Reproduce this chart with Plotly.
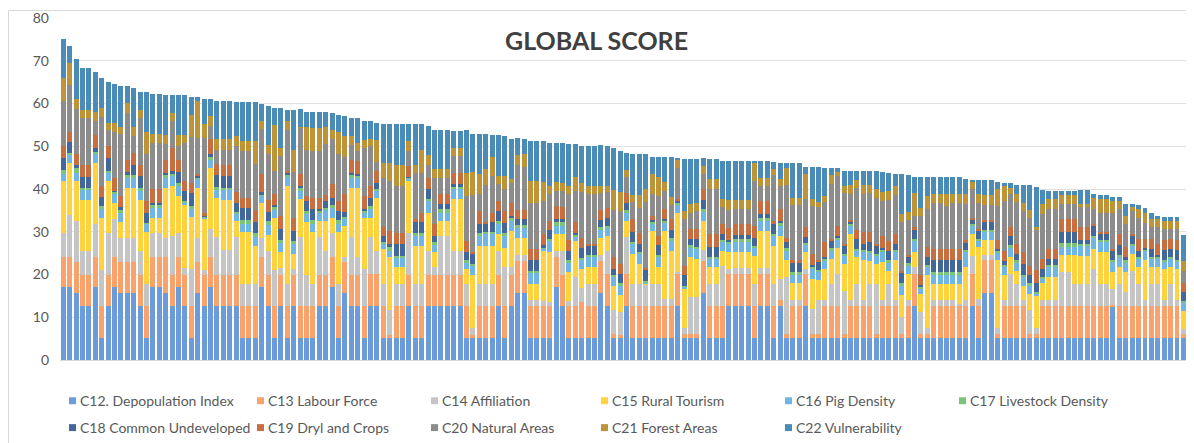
import plotly.graph_objects as go

# ---------------- data ----------------
units = [str(i) for i in range(1, 178)]

c12 = [17, 17, 15.7, 12.6, 12.6, 17, 5.2, 12.6, 17, 15.7,
       15.7, 15.7, 12.6, 5.2, 17, 17, 15.7, 12.6, 17, 12.6,
       5.2, 15.7, 12.6, 17, 12.6, 12.6, 12.6, 12.6, 5.2, 5.2,
       5.2, 17, 12.6, 5.2, 12.6, 5.2, 12.6, 5.2, 5.2, 5.2,
       12.6, 12.6, 17, 5.2, 15.7, 12.6, 12.6, 5.2, 12.6, 12.6,
       5.2, 5.2, 5.2, 5.2, 12.6, 5.2, 5.2, 12.6, 12.6, 12.6,
       12.6, 12.6, 12.6, 5.2, 5.2, 5.2, 5.2, 5.2, 12.6, 5.2,
       12.6, 15.7, 15.7, 5.2, 5.2, 5.2, 5.2, 17, 12.6, 5.2,
       5.2, 5.2, 5.2, 5.2, 15.7, 12.6, 5.2, 5.2, 12.6, 5.2,
       5.2, 5.2, 5.2, 5.2, 5.2, 5.2, 12.6, 5.2, 5.2, 5.2,
       15.7, 5.2, 5.2, 5.2, 12.6, 12.6, 12.6, 12.6, 5.2, 12.6,
       12.6, 5.2, 12.6, 5.2, 5.2, 5.2, 12.6, 5.2, 5.2, 5.2,
       5.2, 5.2, 5.2, 5.2, 5.2, 5.2, 5.2, 5.2, 5.2, 5.2,
       5.2, 5.2, 5.2, 12.6, 5.2, 5.2, 5.2, 5.2, 5.2, 5.2,
       5.2, 5.2, 12.6, 5.2, 15.7, 15.7, 5.2, 5.2, 5.2, 5.2,
       5.2, 5.2, 5.2, 5.2, 5.2, 5.2, 5.2, 5.2, 5.2, 5.2,
       5.2, 5.2, 5.2, 5.2, 12.6, 5.2, 5.2, 5.2, 5.2, 5.2,
       5.2, 5.2, 5.2, 5.2, 5.2, 5.2, 5.2]

c13 = [7, 7, 7.2, 7.4, 7.4, 7, 7.4, 7.4, 7, 7.2,
       7.2, 7.2, 7.4, 7.4, 7, 7, 8.3, 7.4, 7, 7.4,
       7.4, 7.2, 7.4, 7, 7.4, 7.4, 7.4, 7.4, 7.4, 7.4,
       7.4, 7, 7.4, 7.4, 7.4, 7.4, 7.4, 7.4, 7.4, 7.4,
       7.4, 7.4, 7, 7.4, 7.2, 7.4, 7.4, 7.4, 7.6, 7.6,
       7.4, 0.6, 7.4, 7.4, 7.4, 7.4, 7.4, 7.4, 7.4, 7.4,
       7.4, 7.4, 7.4, 7.4, 0.6, 7.4, 7.4, 7.4, 7.4, 7.4,
       7.4, 7.4, 7.4, 7.4, 7.4, 7.4, 7.4, 7, 7.4, 7.4,
       7.4, 8.4, 7.4, 7.4, 7.4, 7.6, 1.0, 0.6, 7.6, 7.4,
       7.4, 7.4, 7.4, 7.4, 7.4, 7.4, 7.6, 1.0, 1.0, 1.0,
       7.4, 7.4, 7.4, 7.4, 7.6, 7.6, 7.6, 7.6, 7.4, 7.6,
       7.6, 7.4, 1.4, 1.0, 7.4, 7.4, 7.6, 1.0, 1.0, 7.4,
       7.4, 7.4, 1.0, 7.4, 7.4, 7.4, 7.4, 1.0, 7.4, 7.4,
       7.4, 1.0, 7.4, 7.6, 1.0, 1.0, 7.4, 7.4, 7.4, 7.4,
       7.4, 7.4, 7.6, 7.4, 7.8, 7.8, 1.0, 7.4, 7.4, 7.4,
       7.4, 1.0, 1.0, 7.4, 7.4, 7.4, 7.4, 7.4, 7.4, 7.4,
       7.4, 7.4, 7.4, 7.4, 0.3, 7.4, 7.4, 7.4, 7.4, 7.4,
       7.4, 7.4, 7.4, 7.4, 7.4, 0.8, 7.4]

c14 = [5.7, 10, 9.7, 5.6, 5.6, 7.9, 8.5, 9.7, 9, 5.6,
       5.6, 5.6, 5.6, 5.2, 5.7, 5.7, 4.5, 9.1, 5.7, 1.6,
       8.7, 5.6, 1.1, 6.6, 8.8, 5.7, 5.7, 8.8, 5.2, 5.2,
       5.2, 4.5, 5.6, 8.5, 1.6, 5.2, 1.3, 16.2, 7.4, 5.2,
       8.8, 5.6, 5.7, 5.2, 1.1, 8.8, 4.0, 8.7, 8.5, 5.4,
       5.1, 5.8, 5.2, 5.2, 9.8, 5.2, 5.2, 5.6, 1.7, 9.1,
       9.1, 5.6, 5.6, 5.2, 1.6, 5.2, 5.2, 5.2, 5.6, 9.1,
       1.7, 1.5, 1.5, 1.5, 1.5, 1.2, 1.0, 1.6, 5.6, 1.3,
       6.8, 3.3, 5.2, 5.2, 1.5, 5.4, 5.4, 5.4, 8.5, 5.2,
       5.2, 5.0, 5.2, 5.2, 1.7, 1.7, 0.5, 1.2, 8.5, 8.5,
       2.7, 5.2, 5.2, 9.5, 1.1, 1.4, 1.4, 1.4, 5.2, 1.4,
       1.4, 5.2, 5.0, 13.2, 1.4, 1.4, 1.2, 5.8, 7.8, 1.4,
       5.2, 7.6, 10.0, 1.4, 5.2, 1.4, 5.2, 11.6, 1.4, 5.2,
       1.4, 3.9, 1.4, 1.5, 5.0, 1.2, 1.4, 1.4, 1.4, 1.4,
       0.6, 1.4, 4.2, 1.7, 1.1, 1.1, 1.2, 1.4, 7.6, 5.2,
       1.4, 5.4, 1.2, 1.4, 1.4, 1.4, 8.1, 8.1, 5.2, 5.2,
       5.2, 8.6, 5.2, 5.2, 3.8, 5.2, 3.2, 8.3, 5.2, 1.4,
       5.2, 5.2, 1.4, 5.2, 1.4, 1.2, 1.4]

c15 = [12.2, 12, 9.3, 11.8, 11.8, 14.1, 12.2, 12.2, 3.8, 3.7,
       11.8, 11.8, 11.8, 12.2, 3.6, 3.6, 11.8, 11.6, 8.7, 14.8,
       12.2, 11.8, 12, 14.4, 9, 11.7, 11.7, 3.8, 12.2, 12.2,
       8.9, 8.3, 3.7, 12.2, 3.6, 22.9, 3.5, 8.8, 12.2, 12.2,
       3.8, 7, 3.6, 12.2, 7.4, 11.5, 16.3, 12.0, 4.6, 12.4,
       8.3, 12.4, 3.9, 3.9, 12.1, 8.9, 8.9, 8.9, 3.5, 3.5,
       3.5, 12.0, 12.0, 3.5, 12.4, 8.9, 8.9, 8.9, 3.9, 4.6,
       8.5, 3.9, 3.9, 3.7, 3.7, 11.7, 11.6, 3.9, 3.9, 6.6,
       8.5, 4.3, 3.9, 3.9, 3.9, 3.3, 5.8, 3.9, 3.9, 7.0,
       4.6, 0.3, 12.4, 3.9, 15.9, 11.2, 13.8, 9.3, 9.3, 8.9,
       6.6, 3.9, 3.9, 3.5, 3.9, 3.6, 3.6, 3.6, 6.5, 8.6,
       8.6, 8.9, 10.0, 3.9, 3.9, 3.9, 3.9, 6.9, 4.6, 7.3,
       5.9, 5.9, 6.2, 15.5, 6.2, 9.3, 5.4, 4.6, 8.9, 3.1,
       9.3, 5.0, 6.2, 3.5, 4.3, 12.4, 3.8, 3.8, 3.8, 3.8,
       4.6, 7.7, 5.1, 12.1, 3.5, 3.5, 15.9, 5.8, 3.8, 3.1,
       3.4, 3.9, 7.7, 3.9, 5.4, 5.4, 3.9, 3.9, 6.8, 6.6,
       6.6, 4.7, 7.4, 7.4, 4.0, 3.9, 4.7, 3.9, 3.9, 9.5,
       3.9, 3.9, 7.4, 3.9, 7.4, 4.3, 3.5]

c16 = [1.7, 2.1, 1.8, 2.3, 2.3, 2.2, 2, 1.9, 2, 2.3,
       2.3, 2.3, 2.1, 1.9, 2.2, 2.2, 2.3, 2.3, 2.3, 0.4,
       1.8, 2.0, 0.3, 1.9, 1.9, 2.3, 2.3, 1.5, 1.9, 1.9,
       2.1, 1.5, 2.3, 1.8, 2.1, 2.1, 2.3, 1.9, 1.9, 1.9,
       1.7, 2.4, 2.2, 1.9, 1.5, 2.3, 2.3, 1.2, 2.0, 1.6,
       1.2, 1.6, 2.2, 2.2, 0.5, 2.4, 2.4, 2.7, 1.9, 1.9,
       1.9, 2.3, 2.3, 1.5, 2.3, 2.4, 2.7, 2.7, 2.3, 2.7,
       2.3, 2.3, 2.3, 2.7, 2.7, 0.5, 2.7, 1.9, 1.9, 2.3,
       1.0, 2.1, 2.3, 2.3, 1.9, 1.9, 1.9, 2.3, 1.9, 2.3,
       2.3, 0.3, 1.6, 2.3, 1.9, 2.3, 1.9, 0.4, 2.3, 2.3,
       2.3, 1.9, 1.9, 1.9, 1.9, 2.4, 2.4, 2.4, 1.9, 2.3,
       2.3, 2.3, 2.3, 2.3, 1.9, 1.9, 1.5, 2.3, 1.9, 1.9,
       1.9, 1.9, 1.9, 1.9, 1.5, 1.9, 1.9, 1.9, 2.3, 1.9,
       1.9, 2.3, 1.9, 2.7, 1.2, 1.9, 2.0, 2.0, 2.0, 2.0,
       2.0, 3.5, 1.9, 1.5, 1.9, 1.9, 1.9, 1.9, 2.4, 2.0,
       1.9, 1.9, 0.4, 1.2, 2.3, 2.3, 1.9, 1.9, 1.9, 2.3,
       2.3, 2.7, 2.3, 2.3, 2.3, 2.3, 2.3, 1.9, 1.9, 1.9,
       1.9, 1.9, 1.5, 1.9, 1.5, 1.9, 1.2]

c17 = [0.8, 0.3, 1.3, 0.6, 0.6, 0.4, 0.7, 0.5, 0.5, 0.8,
       0.7, 0.7, 0.8, 0.2, 0.8, 0.8, 0.6, 0.5, 0.8, 0.3,
       0.8, 0.5, 0.2, 0.7, 0.8, 0.6, 0.6, 0.5, 0.8, 0.8,
       0.8, 0.5, 0.8, 0.8, 0.8, 0.6, 0.8, 0.8, 0.8, 0.8,
       0.5, 0.5, 0.8, 0.8, 0.5, 0.7, 0.6, 0.4, 0.7, 0.5,
       0.4, 0.8, 0.5, 0.5, 0.2, 0.7, 0.7, 0.4, 0.4, 0.8,
       0.8, 0.8, 0.8, 0.5, 0.4, 0.7, 0.5, 0.5, 0.8, 0.8,
       0.8, 0.8, 0.8, 0.4, 0.4, 0.3, 0.5, 0.8, 0.8, 0.7,
       0.4, 0.6, 0.5, 0.5, 0.6, 0.5, 0.5, 0.5, 0.5, 0.6,
       0.5, 0.3, 0.5, 0.5, 0.5, 0.7, 0.4, 0.3, 0.5, 0.5,
       0.7, 0.5, 0.5, 0.5, 0.5, 0.8, 0.8, 0.8, 0.5, 0.8,
       0.8, 0.5, 0.8, 0.6, 0.8, 0.8, 0.5, 0.5, 0.5, 0.5,
       0.5, 0.5, 0.5, 0.5, 0.5, 0.5, 0.5, 0.5, 0.5, 0.5,
       0.5, 0.5, 0.5, 0.4, 0.4, 0.5, 0.7, 0.7, 0.7, 0.7,
       0.7, 0.5, 0.4, 0.4, 0.4, 0.4, 0.4, 0.5, 0.4, 0.4,
       0.5, 0.5, 0.4, 0.4, 0.5, 0.5, 0.8, 0.8, 0.8, 0.5,
       0.5, 0.5, 0.5, 0.5, 0.5, 0.5, 0.5, 0.5, 0.5, 0.5,
       0.5, 0.5, 0.5, 0.5, 0.5, 0.5, 0.4]

c18 = [2.9, 2.5, 0.7, 2.5, 2.5, 1.0, 2.1, 3.0, 0.2, 0.4,
       0.7, 2.4, 2.7, 2.4, 0.5, 0.5, 0.6, 0.7, 2.5, 2.4,
       2.9, 0.4, 0.2, 0.5, 2.7, 2.7, 2.7, 2.2, 2.8, 2.8,
       2.6, 0.4, 2.3, 0.4, 2.5, 0.4, 2.3, 0.4, 2.3, 2.6,
       0.5, 1.8, 1.7, 2.2, 1.3, 0.5, 0.4, 0.4, 2.0, 1.2,
       1.5, 0.8, 2.7, 2.7, 0.2, 2.4, 2.4, 2.3, 1.6, 1.1,
       1.1, 0.4, 0.4, 1.9, 2.3, 2.0, 1.8, 2.3, 2.3, 2.3,
       0.4, 1.5, 1.5, 2.4, 2.4, 0.5, 1.9, 0.8, 0.8, 2.0,
       0.4, 2.2, 2.3, 2.3, 1.8, 1.9, 1.5, 2.3, 1.8, 2.3,
       2.0, 2.7, 0.5, 2.3, 0.4, 2.0, 0.4, 2.4, 1.5, 1.9,
       2.0, 2.3, 2.3, 1.5, 0.5, 0.8, 0.8, 0.8, 1.9, 0.8,
       0.8, 2.4, 0.5, 1.5, 2.2, 2.2, 1.5, 0.5, 1.9, 0.5,
       1.9, 0.5, 1.9, 0.4, 2.2, 1.5, 1.9, 1.9, 0.5, 2.3,
       1.5, 2.6, 1.6, 2.3, 0.4, 1.9, 2.8, 2.8, 2.8, 2.8,
       2.8, 1.9, 1.0, 1.9, 2.0, 2.0, 0.4, 1.0, 2.3, 1.6,
       2.7, 1.9, 2.0, 1.9, 1.5, 1.5, 2.7, 2.7, 2.7, 0.8,
       0.8, 2.3, 1.5, 1.5, 2.0, 2.3, 0.8, 1.9, 1.5, 0.4,
       1.9, 0.4, 2.3, 1.9, 2.3, 1.9, 0.4]

c19 = [2.7, 2.5, 2.4, 2.8, 2.8, 3.1, 2.6, 2.7, 3.1, 2.7,
       2.9, 2.7, 2.7, 2.7, 3.1, 3.1, 3.1, 5.4, 2.9, 2.4,
       2.5, 0.3, 0.5, 3.5, 2.7, 2.7, 2.7, 2.5, 2.5, 2.5,
       2.8, 4.2, 2.7, 2.5, 3.1, 0.4, 3.1, 2.9, 1.2, 2.7,
       2.7, 1.2, 3.1, 2.3, 4.1, 2.9, 2.9, 3.0, 2.7, 2.8,
       2.0, 2.9, 2.7, 2.7, 2.5, 0.7, 2.3, 2.7, 2.7, 2.4,
       2.4, 2.7, 2.7, 2.7, 0.5, 3.1, 0.5, 2.3, 2.3, 2.7,
       3.1, 2.0, 2.0, 2.7, 2.7, 2.7, 2.3, 3.1, 2.7, 2.5,
       2.5, 2.4, 0.4, 0.4, 2.3, 2.4, 2.7, 2.3, 2.2, 3.1,
       2.5, 0.4, 0.8, 2.3, 2.4, 2.4, 0.4, 2.3, 2.3, 2.3,
       2.7, 3.1, 3.1, 2.3, 2.8, 2.7, 2.7, 2.7, 2.7, 3.1,
       3.1, 0.5, 2.7, 0.8, 0.5, 0.5, 2.3, 2.7, 0.5, 3.3,
       0.4, 2.4, 0.4, 0.4, 2.3, 2.7, 2.4, 0.4, 2.7, 2.3,
       2.3, 0.4, 0.4, 0.4, 2.3, 2.3, 2.7, 2.7, 2.7, 2.7,
       2.7, 0.4, 0.4, 0.4, 0.4, 0.4, 2.0, 2.3, 1.9, 2.3,
       2.7, 2.3, 3.1, 2.3, 2.3, 2.3, 3.1, 3.1, 3.1, 3.1,
       3.1, 0.4, 0.4, 0.4, 0.4, 2.7, 2.3, 0.4, 2.7, 1.9,
       2.3, 2.7, 2.3, 2.3, 2.3, 2.3, 2.3]

c20 = [10.6, 11, 10.7, 11.1, 11.1, 3.3, 16.1, 3.7, 10.7, 14.5,
       10.9, 3.9, 10.9, 10.9, 10.9, 10.9, 3.6, 6.2, 3.1, 8.9,
       10.6, 8.4, 17.6, 3.1, 3.3, 3.5, 3.5, 10.8, 10.8, 10.8,
       10.9, 10.7, 10.8, 5.5, 14, 9.5, 10.7, 10.8, 10.8, 10.8,
       10.8, 12, 10.7, 10.9, 8.6, 3.7, 2.4, 11.2, 9.3, 2.3,
       11.5, 11.7, 10.9, 10.9, 3.5, 10.9, 9.3, 3.0, 10.8, 3.8,
       3.8, 3.9, 3.9, 10.5, 13.2, 3.9, 8.8, 8.5, 3.9, 5.3,
       4.7, 10.4, 10.0, 10.8, 10.8, 7.7, 6.2, 3.5, 3.9, 10.8,
       7.3, 10.8, 11.6, 11.6, 3.9, 3.8, 11.2, 12.4, 3.8, 3.9,
       5.8, 15.3, 5.3, 9.2, 4.2, 3.4, 7.4, 10.8, 3.9, 4.2,
       3.4, 10.5, 10.5, 3.9, 4.2, 3.5, 3.5, 3.5, 10.5, 3.5,
       3.5, 10.8, 5.4, 12.5, 13.0, 13.0, 6.6, 11.2, 12.4, 9.4,
       12.8, 11.7, 12.0, 6.2, 9.7, 9.0, 9.2, 10.8, 8.4, 9.6,
       9.2, 11.3, 8.2, 2.7, 13.9, 8.9, 10.8, 10.8, 10.0, 10.8,
       10.8, 8.6, 6.9, 6.2, 3.4, 3.4, 8.0, 11.6, 7.8, 9.7,
       9.7, 11.2, 9.3, 10.5, 9.3, 9.3, 3.5, 3.5, 3.5, 4.6,
       4.6, 3.5, 4.6, 4.6, 8.6, 5.8, 5.3, 5.3, 5.0, 3.9,
       2.7, 3.9, 2.7, 2.3, 2.7, 2.7, 2.7]

c21 = [5.3, 5.1, 2.3, 1.8, 1.8, 2.1, 2.1, 1.7, 2.1, 1.5,
       2.3, 2.2, 1.9, 5.2, 2.1, 2.1, 2.2, 2.0, 2.7, 1.9,
       5.3, 8.6, 3.3, 2.3, 2.4, 2.4, 2.4, 2.4, 2.4, 2.4,
       5.3, 1.7, 2.2, 10.6, 1.9, 2.2, 5.2, 0.2, 5.2, 5.5,
       5.5, 4, 2.1, 5.2, 4.9, 1.9, 1.9, 2.0, 1.6, 5.0,
       3.5, 4.4, 5.0, 5.0, 2.4, 1.9, 5.4, 2.4, 2.0, 2.0,
       2.0, 1.9, 1.9, 5.4, 5.4, 4.6, 3.6, 4.6, 1.9, 3.0,
       0.8, 2.4, 3.0, 5.1, 5.1, 4.4, 2.0, 2.0, 1.9, 2.0,
       3.3, 2.1, 1.9, 1.9, 1.6, 1.2, 4.6, 4.3, 1.6, 1.6,
       3.0, 3.0, 4.6, 4.6, 2.0, 1.9, 1.9, 2.0, 2.0, 2.0,
       1.8, 2.3, 2.3, 2.0, 2.3, 2.1, 2.1, 2.1, 4.2, 1.9,
       1.9, 1.5, 1.6, 3.8, 1.5, 1.5, 5.8, 1.5, 1.2, 1.5,
       2.0, 0.8, 1.5, 2.0, 1.9, 2.0, 1.8, 2.0, 2.0, 2.0,
       1.9, 1.9, 1.9, 5.4, 1.9, 3.1, 2.0, 2.0, 2.8, 2.0,
       2.0, 2.3, 1.6, 2.0, 2.4, 2.4, 4.0, 3.5, 1.5, 1.9,
       1.9, 1.9, 0.8, 2.3, 2.3, 2.3, 2.0, 2.0, 2.0, 0.8,
       0.8, 2.7, 3.1, 3.1, 2.7, 2.0, 2.0, 1.0, 2.0, 2.3,
       2.0, 1.9, 1.9, 1.9, 1.9, 2.4, 1.5]

c22 = [9.3, 4, 9.3, 9.7, 9.7, 9.2, 7.0, 9.7, 9.2, 9.6,
       3.9, 9.1, 4.1, 9.3, 9.3, 9.3, 9.2, 4.1, 9.2, 9.2,
       4.1, 1.0, 5.9, 4.1, 9.1, 9.1, 9.1, 7.8, 9.1, 9.1,
       9.1, 4.0, 9.1, 4.0, 9.3, 2.6, 9.3, 4.1, 3.7, 3.8,
       3.8, 3.6, 3.9, 4.1, 4.7, 4.4, 5.8, 4.5, 4.4, 4.1,
       9.1, 9.0, 9.5, 9.5, 4.0, 9.5, 6.0, 6.7, 9.3, 9.3,
       9.3, 4.0, 4.0, 10.0, 9.0, 9.5, 8.3, 5.1, 9.7, 9.2,
       9.5, 4.1, 3.7, 9.3, 9.3, 9.6, 10.0, 9.2, 9.3, 9.8,
       7.8, 8.6, 9.3, 9.3, 9.6, 9.4, 9.8, 9.8, 4.0, 9.5,
       9.6, 8.2, 4.1, 4.7, 6.0, 9.4, 0.4, 12.1, 10.5, 10.2,
       1.9, 4.7, 4.7, 8.9, 9.2, 9.1, 9.1, 9.1, 0.6, 4.0,
       4.0, 1.6, 3.7, 1.2, 8.2, 8.2, 1.7, 7.6, 8.2, 6.4,
       1.6, 0.9, 3.7, 3.4, 2.2, 3.4, 3.4, 4.4, 4.7, 4.3,
       3.0, 9.3, 8.5, 3.7, 7.2, 4.4, 4.0, 4.0, 4.0, 4.0,
       4.0, 3.5, 0.3, 3.2, 3.6, 3.6, 1.7, 0.7, 1.0, 2.2,
       4.2, 5.7, 9.4, 3.3, 2.0, 2.0, 0.9, 0.9, 0.9, 3.2,
       3.2, 0.9, 0.9, 0.9, 0.9, 0.8, 2.9, 0.8, 1.0, 1.2,
       1.3, 0.8, 0.8, 0.9, 0.8, 6.0, 1.2]

series_names = ["C12. Depopulation Index", "C13 Labour Force", "C14 Affiliation",
                "C15 Rural Tourism", "C16 Pig Density", "C17 Livestock Density",
                "C18 Common Undeveloped", "C19 Dryl and Crops", "C20 Natural Areas",
                "C21 Forest Areas", "C22 Vulnerability"]
series_values = [c12, c13, c14, c15, c16, c17, c18, c19, c20, c21, c22]
series_colors = ["#6C9BD9", "#F9A26B", "#C5C5C5", "#FFD23F", "#70B6E5", "#7BC47A",
                 "#44679A", "#C86F42", "#8C8C8C", "#BD9538", "#4A8BB8"]

y_ticks = [0, 10, 20, 30, 40, 50, 60, 70, 80]

# ---------------- figure ----------------
# the page body adds an 8px margin, so the figure is 8px smaller and all
# reference-pixel positions are shifted by that offset
OFF = 8
W, H = 1194 - OFF, 443 - OFF
ML, MR, MT, MB = 60 - OFF, 1, 16 - OFF, 83
PW, PH = W - ML - MR, H - MT - MB
FONT = "Lato, 'Open Sans', Arial, sans-serif"


def px_x(px):
    return (px - OFF - ML) / PW


def px_y(py):
    return (H - MB - (py - OFF)) / PH


fig = go.Figure()
for name, vals, col in zip(series_names, series_values, series_colors):
    fig.add_trace(go.Bar(x=units, y=vals, name=name, marker_color=col,
                         marker_line_width=0, showlegend=False))

shapes = [dict(type="rect", xref="paper", yref="paper", layer="below",
               x0=px_x(OFF + 0.5), x1=px_x(1240), y0=px_y(480), y1=px_y(OFF + 0.5),
               line=dict(color="#d9d9d9", width=1), fillcolor="rgba(0,0,0,0)")]
annotations = [dict(text="<b>GLOBAL SCORE</b>", xref="paper", yref="paper",
                    x=px_x(596), y=px_y(38), xanchor="center", yanchor="middle",
                    showarrow=False,
                    font=dict(family=FONT, size=25, color="#404040"))]

# legend laid out like the original (two rows)
legend_cols = [69, 257, 431, 601, 785, 959]
legend_rows = [401, 428]
for i, (name, col) in enumerate(zip(series_names, series_colors)):
    r, c = (0, i) if i < 6 else (1, i - 6)
    sx, yc = legend_cols[c], legend_rows[r]
    shapes.append(dict(type="rect", xref="paper", yref="paper",
                       x0=px_x(sx), x1=px_x(sx + 7), y0=px_y(yc + 3.5), y1=px_y(yc - 3.5),
                       line=dict(width=0), fillcolor=col))
    annotations.append(dict(text=name, xref="paper", yref="paper",
                            x=px_x(sx + 9), y=px_y(yc), xanchor="left", yanchor="middle",
                            showarrow=False,
                            font=dict(family=FONT, size=14, color="#595959")))

fig.update_layout(
    width=W, height=H,
    margin=dict(l=ML, r=MR, t=MT, b=MB, pad=0),
    barmode="stack", bargap=0.22,
    paper_bgcolor="white", plot_bgcolor="white",
    font=dict(family=FONT, size=14, color="#595959"),
    shapes=shapes, annotations=annotations,
    showlegend=False,
    xaxis=dict(type="category", showticklabels=False, showgrid=False,
               zeroline=False, showline=False, ticks="",
               range=[-0.5, len(units) - 0.5]),
    yaxis=dict(range=[0, 80], tickvals=y_ticks, showgrid=True,
               gridcolor="#e0e0e0", gridwidth=1, zeroline=True,
               zerolinecolor="#d9d9d9", zerolinewidth=1, showline=False,
               ticks="", ticklabelstandoff=10, ticklabeloverflow="allow",
               tickfont=dict(family=FONT, size=14, color="#595959")),
)

fig.write_html("out.html")
